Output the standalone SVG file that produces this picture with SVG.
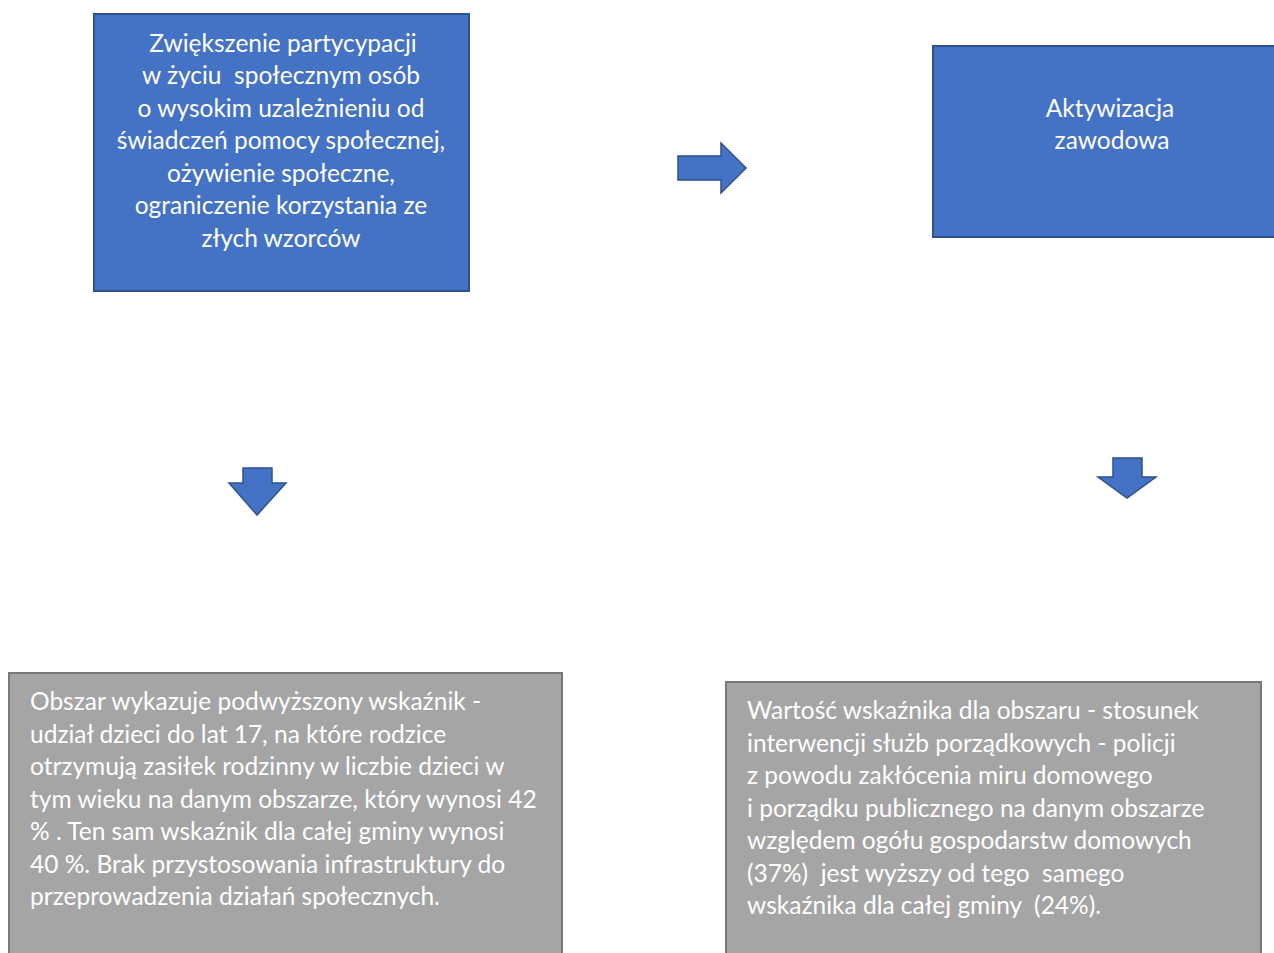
<svg xmlns="http://www.w3.org/2000/svg" width="1274" height="953" viewBox="0 0 1274 953">
<style>
.blue{fill:#4472C4;stroke:#2F528F;stroke-width:2}
.gray{fill:#A5A5A5;stroke:#787878;stroke-width:2}
.arrow{fill:#4472C4;stroke:#2F528F;stroke-width:1.5;stroke-linejoin:miter}
text{font-family:Lato,"Liberation Sans",sans-serif;font-size:24.5px;fill:#FFFFFF;white-space:pre}
.c{text-anchor:middle}
</style>
<rect width="1274" height="953" fill="#FFFFFF"/>
<g id="node-participation">
<rect class="blue" x="94" y="14" width="375" height="277"/>
<text class="c" x="283" y="52">Zwiększenie partycypacji</text>
<text class="c" x="281" y="84" xml:space="preserve">w życiu  społecznym osób</text>
<text class="c" x="281" y="117">o wysokim uzależnieniu od</text>
<text class="c" x="281" y="149">świadczeń pomocy społecznej,</text>
<text class="c" x="281" y="182">ożywienie społeczne,</text>
<text class="c" x="281" y="214">ograniczenie korzystania ze</text>
<text class="c" x="281" y="247">złych wzorców</text>
</g>
<g id="node-activation">
<rect class="blue" x="933" y="46" width="345" height="191"/>
<text class="c" x="1110" y="117">Aktywizacja</text>
<text class="c" x="1112" y="149">zawodowa</text>
</g>
<g id="node-indicator-left">
<rect class="gray" x="9" y="673" width="553" height="290"/>
<text x="30" y="710">Obszar wykazuje podwyższony wskaźnik -</text>
<text x="30" y="743">udział dzieci do lat 17, na które rodzice</text>
<text x="30" y="775">otrzymują zasiłek rodzinny w liczbie dzieci w</text>
<text x="30" y="808">tym wieku na danym obszarze, który wynosi 42</text>
<text x="30" y="840">% . Ten sam wskaźnik dla całej gminy wynosi</text>
<text x="30" y="873">40 %. Brak przystosowania infrastruktury do</text>
<text x="30" y="905">przeprowadzenia działań społecznych.</text>
</g>
<g id="node-indicator-right">
<rect class="gray" x="726" y="682" width="535" height="281"/>
<text x="747" y="719">Wartość wskaźnika dla obszaru - stosunek</text>
<text x="747" y="752">interwencji służb porządkowych - policji</text>
<text x="747" y="784">z powodu zakłócenia miru domowego</text>
<text x="747" y="817">i porządku publicznego na danym obszarze</text>
<text x="747" y="849">względem ogółu gospodarstw domowych</text>
<text x="747" y="882" xml:space="preserve">(37%)  jest wyższy od tego  samego</text>
<text x="747" y="914" xml:space="preserve">wskaźnika dla całej gminy  (24%).</text>
</g>
<g id="connectors">
<polygon class="arrow" points="678,156 721,156 721,143 746,168 721,193 721,180 678,180"/>
<polygon class="arrow" points="243,468 272,468 272,483 286,483 257,515 229,483 243,483"/>
<polygon class="arrow" points="1113,458 1142,458 1142,477 1156,477 1127,498 1098,477 1113,477"/>
</g>
</svg>
